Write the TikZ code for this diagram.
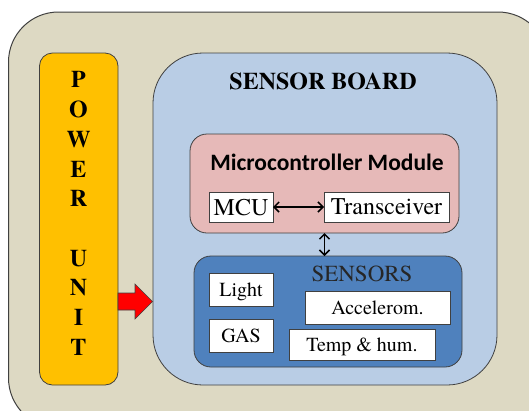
\documentclass[tikz,border=0pt]{standalone}
\usepackage{fontspec}
\setmainfont{texgyretermes}[Extension=.otf, UprightFont=*-regular, BoldFont=*-bold, ItalicFont=*-italic, BoldItalicFont=*-bolditalic]
\newfontfamily\calibrifont{Carlito}
\usetikzlibrary{arrows.meta}
\definecolor{outerbg}{HTML}{DDD9C3}
\definecolor{powercol}{HTML}{FFC000}
\definecolor{boardcol}{HTML}{B9CDE5}
\definecolor{microcol}{HTML}{E6B9B8}
\definecolor{senscol}{HTML}{4F81BD}
\definecolor{edgegray}{HTML}{404040}
\begin{document}
\begin{tikzpicture}[x=1pt,y=-1pt,
  box/.style={draw=edgegray, line width=0.8pt, inner sep=0pt, outer sep=0pt},
  whitebox/.style={box, fill=white, font=\fontsize{20}{24}\selectfont, text depth=0pt},
  bigwhitebox/.style={box, fill=white, font=\fontsize{24}{28}\selectfont, text depth=0pt},
  dblarrow/.style={{Straight Barb[length=5pt,width=10pt]}-{Straight Barb[length=5pt,width=10pt]}, line width=1.5pt, black}
]
\useasboundingbox (0,0) rectangle (529,410);
\clip (0,0) rectangle (529,410);
\fill[white] (0,0) rectangle (529,410);
\draw[fill=outerbg, draw=edgegray, line width=1pt, rounded corners=50pt] (8.5,12) rectangle (548,428);

% power unit
\node[box, fill=powercol, rounded corners=13pt, minimum width=78.5pt, minimum height=332pt] (power) at (78.75,219) {};
\node[align=center, inner sep=0pt, font=\bfseries\fontsize{24}{29.7}\selectfont] (powertext) at (78.5,213.5)
  {P\\O\\W\\E\\R\\[29.7pt]U\\N\\I\\T};

% sensor board
\node[box, fill=boardcol, rounded corners=50pt, minimum width=344pt, minimum height=332pt] (board) at (325,219) {};
\node[inner sep=0pt, text depth=0pt, font=\bfseries\fontsize{24}{28}\selectfont] (boardtitle) at (323,81) {SENSOR BOARD};

% microcontroller module
\node[box, fill=microcol, rounded corners=17pt, minimum width=269pt, minimum height=99pt] (micro) at (324.5,183.5) {};
\node[inner sep=0pt, text depth=0pt, font=\calibrifont\bfseries\fontsize{23.5}{28}\selectfont] (microtitle) at (327,162.5) {Microcontroller Module};
\node[bigwhitebox, minimum width=64pt, minimum height=30pt] (mcu) at (241,207) {MCU};
\node[bigwhitebox, minimum width=125pt, minimum height=30pt] (trans) at (386.5,207) {Transceiver};

% sensors
\node[box, fill=senscol, rounded corners=17pt, minimum width=268pt, minimum height=111pt] (sensors) at (328,311.5) {};
\node[inner sep=0pt, text depth=0pt, font=\fontsize{23}{28}\selectfont, text=black!85] (senstitle) at (362,274) {SENSORS};
\node[whitebox, minimum width=64pt, minimum height=33pt] (light) at (241,289.5) {Light};
\node[whitebox, minimum width=64pt, minimum height=33pt] (gas) at (241,336) {GAS};
\node[whitebox, minimum width=145pt, minimum height=33pt] (accel) at (377.5,307.5) {Accelerom.};
\node[whitebox, minimum width=146pt, minimum height=31pt] (temp) at (362,344.5) {Temp \& hum.};

% connectors
\draw[dblarrow] (mcu.east) -- (trans.west);
\draw[dblarrow] (micro.south) -- (micro.south |- sensors.north);

% red power arrow
\draw[fill=red, draw=edgegray, line width=0.6pt]
  (118,293) -- (135,293) -- (135,284) -- (152.5,301.5) -- (135,319) -- (135,310) -- (118,310) -- cycle;
\end{tikzpicture}
\end{document}
